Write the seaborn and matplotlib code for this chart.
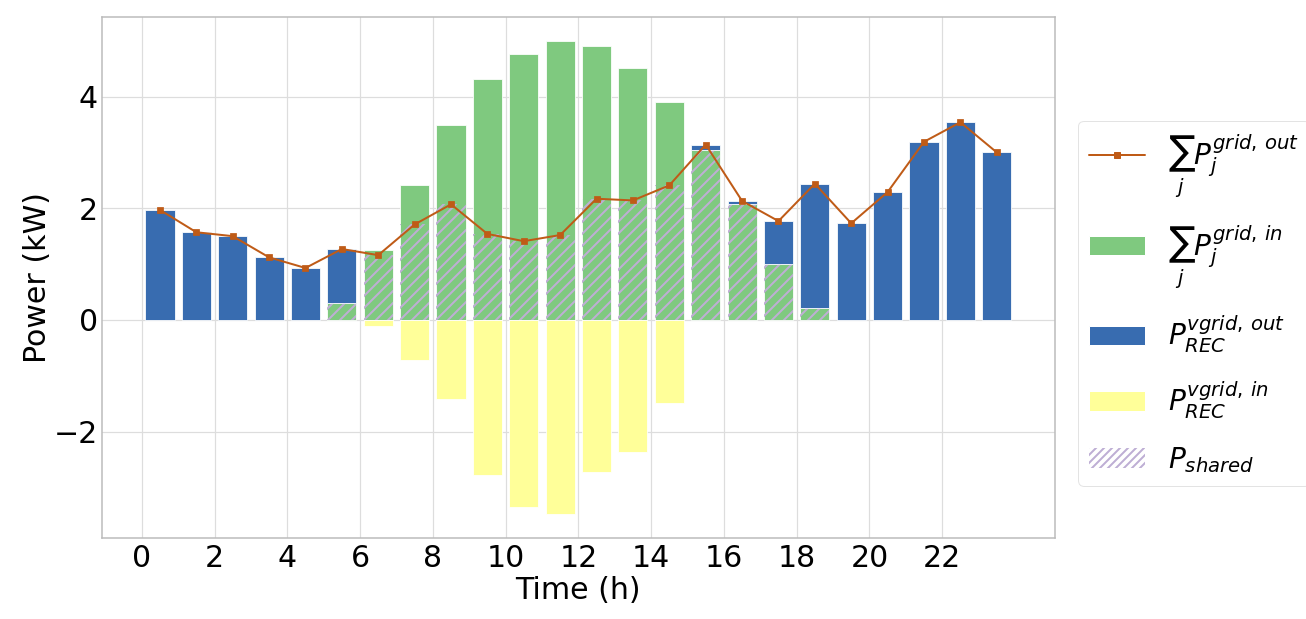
import matplotlib
matplotlib.use("Agg")
import matplotlib.pyplot as plt
import numpy as np
import pandas as pd
import seaborn as sns
from matplotlib.patches import Patch
from matplotlib.lines import Line2D

# ---- data ----
hours = [0.5, 1.5, 2.5, 3.5, 4.5, 5.5, 6.5, 7.5, 8.5, 9.5, 10.5, 11.5,
         12.5, 13.5, 14.5, 15.5, 16.5, 17.5, 18.5, 19.5, 20.5, 21.5, 22.5, 23.5]
grid_out = [1.97, 1.57, 1.50, 1.12, 0.93, 1.27, 1.16, 1.71, 2.07, 1.54, 1.41, 1.52,
            2.17, 2.14, 2.41, 3.14, 2.13, 1.77, 2.44, 1.73, 2.29, 3.19, 3.54, 3.00]
grid_in = [0, 0, 0, 0, 0, 0.31, 1.26, 2.42, 3.49, 4.31, 4.76, 5.00,
           4.90, 4.51, 3.90, 3.04, 2.07, 1.00, 0.21, 0, 0, 0, 0, 0]
shared = [0, 0, 0, 0, 0, 0.31, 1.16, 1.71, 2.07, 1.54, 1.41, 1.52,
          2.17, 2.14, 2.41, 3.04, 2.07, 1.00, 0.21, 0, 0, 0, 0, 0]
vgrid_out = [1.97, 1.57, 1.50, 1.12, 0.93, 0.96, 0, 0, 0, 0, 0, 0,
             0, 0, 0, 0.10, 0.06, 0.77, 2.23, 1.73, 2.29, 3.19, 3.54, 3.00]
vgrid_in = [0, 0, 0, 0, 0, 0, -0.10, -0.71, -1.42, -2.77, -3.35, -3.48,
            -2.73, -2.37, -1.49, 0, 0, 0, 0, 0, 0, 0, 0, 0]
xticks = [0, 2, 4, 6, 8, 10, 12, 14, 16, 18, 20, 22]
yticks = [-2, 0, 2, 4]
ytick_labels = ["\u22122", "0", "2", "4"]

# Accent palette colours
C_GREEN = "#7fc97f"
C_PURPLE = "#beaed4"
C_YELLOW = "#ffff99"
C_BLUE = "#386cb0"
C_ORANGE = "#bf5b17"

df = pd.DataFrame(dict(t=hours, grid_out=grid_out, grid_in=grid_in, shared=shared,
                       vgrid_out=vgrid_out, vgrid_in=vgrid_in))

sns.set_style("whitegrid")
plt.rcParams["font.family"] = ["DejaVu Sans"]
plt.rcParams["hatch.linewidth"] = 2.0
plt.rcParams["mathtext.fontset"] = "dejavusans"
plt.rcParams["text.color"] = "black"

# dpi 72: 1 pt == 1 px
DPI = 72
fig = plt.figure(figsize=(1306 / DPI, 619 / DPI), dpi=DPI)
ax = fig.add_axes([0.0779, 0.1309, 0.7299, 0.8421])

bar_kw = dict(width=0.8, edgecolor="white", linewidth=0.8)

d_in = df[df.grid_in > 0]
ax.bar(d_in.t, d_in.grid_in, color=C_GREEN, zorder=2, **bar_kw)

d_sh = df[df.shared > 0]
ax.bar(d_sh.t, d_sh.shared, width=0.8, facecolor="none", edgecolor=C_PURPLE,
       hatch="//", linewidth=0, zorder=3)

d_vo = df[df.vgrid_out > 0]
ax.bar(d_vo.t, d_vo.vgrid_out, bottom=d_vo.shared, color=C_BLUE, zorder=3, **bar_kw)

d_vi = df[df.vgrid_in < 0]
sns.barplot(data=d_vi, x="t", y="vgrid_in", native_scale=True, color=C_YELLOW,
            saturation=1, ax=ax, zorder=3, **bar_kw)

sns.lineplot(data=df, x="t", y="grid_out", color=C_ORANGE, marker="s", markersize=6.5,
             markeredgecolor=C_ORANGE, linewidth=2.0, ax=ax, zorder=5)

ax.set_xlim(-1.1, 25.1)
ax.set_ylim(-3.905, 5.43)
ax.set_xticks(xticks)
ax.set_yticks(yticks)
ax.set_xticklabels([str(v) for v in xticks])
ax.set_yticklabels(ytick_labels)
ax.tick_params(axis="both", labelsize=30, labelcolor="black", length=0)
ax.tick_params(axis="y", pad=4)
ax.tick_params(axis="x", pad=6)
ax.set_xlabel("Time (h)", fontsize=30, labelpad=3, color="black")
ax.set_ylabel("Power (kW)", fontsize=30, labelpad=1, color="black")
ax.grid(True, color="#dddddd", linewidth=1.2)
for s in ax.spines.values():
    s.set_color("#bbbbbb")
    s.set_linewidth(1.5)

handles = [
    Line2D([0], [0], color=C_ORANGE, marker="s", markersize=6.5, linewidth=2.0),
    Patch(facecolor=C_GREEN, edgecolor="white"),
    Patch(facecolor=C_BLUE, edgecolor="white"),
    Patch(facecolor=C_YELLOW, edgecolor="white"),
    Patch(facecolor="white", edgecolor=C_PURPLE, hatch="///", linewidth=0),
]
labels = [
    r"$\sum_j P_j^{grid,\,out}$",
    r"$\sum_j P_j^{grid,\,in}$",
    r"$P_{REC}^{vgrid,\,out}$",
    r"$P_{REC}^{vgrid,\,in}$",
    r"$P_{shared}$",
]
fig.legend(handles, labels, loc="center left", bbox_to_anchor=(0.8254, 0.51),
           borderaxespad=0, fontsize=28, frameon=True, edgecolor="#dddddd",
           labelspacing=0.85)

fig.savefig("out.png", dpi=DPI)
